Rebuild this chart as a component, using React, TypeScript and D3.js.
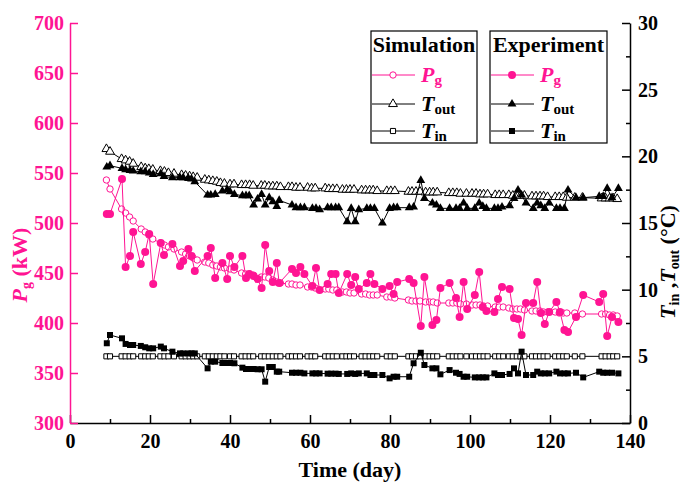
import * as d3 from "d3";
import { useEffect, useRef } from "react";

// simulation time points (day)
const simDays = [
  9.1, 10.0, 12.9, 13.9, 14.9, 15.8, 17.8, 18.8, 19.7, 20.7,
  22.6, 23.6, 24.6, 26.0, 27.9, 28.9, 29.9, 30.8, 31.8, 33.7,
  34.7, 35.7, 36.7, 37.6, 38.6, 40.0, 41.0, 42.9, 43.9, 44.9,
  45.8, 47.8, 48.7, 49.7, 50.7, 51.7, 52.6, 54.6, 55.5, 56.5,
  57.5, 59.4, 60.4, 61.3, 63.8, 64.7, 65.7, 66.7, 68.1, 69.1,
  70.0, 71.0, 72.9, 73.9, 74.9, 75.8, 76.8, 79.2, 80.2, 81.2,
  84.6, 85.5, 86.5, 87.5, 88.9, 89.9, 90.8, 91.8, 94.7, 95.7,
  96.7, 97.6, 99.1, 100.5, 101.5, 102.5, 103.4, 104.4, 106.3, 107.3,
  108.3, 109.7, 110.7, 111.7, 112.6, 113.6, 115.5, 116.5, 117.5, 118.4,
  119.4, 121.3, 122.3, 123.3, 124.2, 126.2, 128.1, 132.9, 133.9, 134.9,
  135.8, 136.8,
];
const simPg = [
  543, 534, 514, 510, 506, 502, 494, 491, 488, 484,
  480, 478, 476, 474, 471, 469, 467, 465, 463, 461,
  460, 458, 457, 456, 455, 454, 453, 450, 449, 449,
  448, 446, 446, 445, 443, 441, 440, 439, 439, 438,
  438, 436, 436, 435, 434, 434, 433, 433, 431, 431,
  430, 430, 429, 429, 428, 428, 428, 426, 426, 425,
  423, 422, 422, 422, 421, 421, 421, 420, 420, 420,
  420, 419, 419, 418, 418, 418, 417, 417, 416, 416,
  416, 415, 414, 414, 414, 413, 412, 412, 412, 411,
  411, 411, 410, 410, 410, 410, 409, 409, 409, 408,
  408, 407,
];
const simTout = [
  20.55, 20.35, 19.8, 19.7, 19.6, 19.45, 19.2, 19.1, 19.05, 19.0,
  18.9, 18.85, 18.75, 18.7, 18.6, 18.55, 18.5, 18.45, 18.4, 18.25,
  18.2, 18.15, 18.1, 18.0, 17.95, 17.9, 17.9, 17.85, 17.85, 17.85,
  17.8, 17.8, 17.8, 17.75, 17.75, 17.75, 17.7, 17.7, 17.7, 17.65,
  17.65, 17.65, 17.6, 17.6, 17.6, 17.55, 17.55, 17.55, 17.5, 17.5,
  17.5, 17.5, 17.45, 17.45, 17.45, 17.45, 17.4, 17.4, 17.4, 17.4,
  17.35, 17.35, 17.35, 17.35, 17.3, 17.3, 17.3, 17.3, 17.25, 17.25,
  17.25, 17.2, 17.2, 17.2, 17.2, 17.15, 17.15, 17.15, 17.1, 17.1,
  17.1, 17.1, 17.05, 17.05, 17.05, 17.05, 17.0, 17.0, 17.0, 17.0,
  16.95, 16.95, 16.95, 16.95, 16.9, 16.9, 16.9, 16.85, 16.85, 16.85,
  16.85, 16.8,
];
const simTin = [
  5, 5, 5, 5, 5, 5, 5, 5, 5, 5,
  5, 5, 5, 5, 5, 5, 5, 5, 5, 5,
  5, 5, 5, 5, 5, 5, 5, 5, 5, 5,
  5, 5, 5, 5, 5, 5, 5, 5, 5, 5,
  5, 5, 5, 5, 5, 5, 5, 5, 5, 5,
  5, 5, 5, 5, 5, 5, 5, 5, 5, 5,
  5, 5, 5, 5, 5, 5, 5, 5, 5, 5,
  5, 5, 5, 5, 5, 5, 5, 5, 5, 5,
  5, 5, 5, 5, 5, 5, 5, 5, 5, 5,
  5, 5, 5, 5, 5, 5, 5, 5, 5, 5,
  5, 5,
];

// experiment time points (day)
const expDays = [
  9.2, 10.0, 13.0, 13.9, 15.0, 15.8, 17.7, 18.8, 19.8, 20.8,
  22.7, 23.5, 25.6, 27.5, 28.3, 29.6, 30.4, 31.2, 34.4, 35.2,
  36.3, 38.1, 39.3, 40.0, 41.1, 43.1, 44.0, 44.8, 45.9, 46.9,
  47.9, 48.8, 49.8, 50.7, 51.7, 52.3, 55.5, 56.5, 57.6, 58.6,
  60.6, 61.5, 62.4, 64.4, 65.3, 66.4, 67.2, 69.3, 70.3, 71.3,
  72.2, 74.2, 75.1, 76.1, 78.1, 79.9, 80.9, 81.8, 84.8, 85.9,
  87.7, 88.6, 90.6, 91.6, 92.6, 94.9, 96.5, 97.4, 98.4, 99.3,
  101.2, 102.3, 103.2, 104.1, 106.1, 107.0, 108.0, 109.9, 111.0, 112.0,
  112.9, 114.0, 115.8, 116.8, 117.7, 118.7, 119.8, 121.6, 122.5, 123.6,
  124.5, 126.5, 128.3, 132.3, 133.3, 134.3, 135.5, 137.1,
];
const expPg = [
  509, 509, 544, 456, 467, 491, 459, 471, 489, 439,
  480, 468, 479, 457, 462, 474, 467, 452, 467, 475,
  445, 460, 444, 467, 456, 467, 445, 449, 447, 444,
  435, 478, 452, 441, 460, 440, 454, 450, 456, 449,
  437, 455, 433, 439, 449, 449, 430, 449, 438, 446,
  434, 440, 449, 439, 434, 437, 429, 441, 444, 440,
  397, 446, 398, 403, 435, 440, 425, 406, 441, 414,
  428, 451, 416, 412, 411, 424, 436, 434, 405, 404,
  388, 420, 420, 441, 410, 399, 411, 421, 411, 393,
  391, 406, 428, 421, 429, 387, 406, 401,
];
const expTout = [
  19.2, 19.3, 19.1, 19.0, 18.95, 18.9, 18.85, 18.85, 18.75, 18.65,
  18.7, 18.5, 18.4, 18.4, 18.4, 18.35, 18.3, 18.1, 17.1, 17.1,
  17.15, 17.4, 17.5, 17.35, 17.15, 17.05, 17.05, 17.05, 16.35, 16.8,
  17.15, 16.35, 16.9, 16.6, 16.25, 16.7, 16.35, 16.15, 16.15, 16.15,
  16.1, 16.1, 16.0, 16.15, 16.15, 16.15, 16.15, 15.1, 16.1, 15.1,
  16.0, 16.1, 16.1, 16.1, 15.0, 16.1, 16.15, 16.15, 16.15, 16.2,
  18.2, 16.85, 16.5, 16.35, 16.1, 16.1, 16.1, 16.1, 16.5, 16.1,
  16.1, 16.5, 16.25, 16.1, 16.1, 16.1, 16.2, 16.3, 16.85, 17.47,
  17.1, 16.5, 16.1, 16.5, 16.3, 16.1, 16.5, 16.1, 16.1, 16.1,
  17.47, 16.9, 16.9, 17.0, 17.0, 17.6, 16.9, 17.6,
];
const expTin = [
  5.98, 6.6, 6.35, 5.93, 5.85, 5.85, 5.78, 5.68, 5.6, 5.6,
  5.73, 5.6, 5.35, 5.22, 5.22, 5.22, 5.22, 5.22, 4.1, 4.6,
  4.6, 4.5, 4.5, 4.5, 4.48, 4.15, 4.05, 4.05, 4.05, 4.03,
  4.03, 3.1, 4.2, 4.2, 3.85, 3.85, 3.77, 3.77, 3.77, 3.72,
  3.72, 3.72, 3.72, 3.7, 3.7, 3.7, 3.68, 3.68, 3.72, 3.68,
  3.72, 3.72, 3.6, 3.6, 3.6, 3.35, 3.47, 3.47, 3.47, 4.48,
  5.27, 4.35, 4.1, 4.1, 3.65, 3.97, 3.77, 3.68, 3.47, 3.47,
  3.42, 3.42, 3.42, 3.42, 3.72, 3.6, 3.6, 3.68, 4.1, 3.72,
  5.35, 3.6, 3.6, 3.85, 3.72, 3.72, 3.72, 3.85, 3.72, 3.72,
  3.72, 3.77, 3.42, 3.85, 3.77, 3.77, 3.77, 3.72,
];

const dayTicks = [0, 20, 40, 60, 80, 100, 120, 140];
const dayMinor = [10, 30, 50, 70, 90, 110, 130];
const pgTicks = [300, 350, 400, 450, 500, 550, 600, 650, 700];
const tTicks = [0, 5, 10, 15, 20, 25, 30];
const tMinor = [2.5, 7.5, 12.5, 17.5, 22.5, 27.5];

const PINK = "#FF1493";
const FONT = "'Liberation Serif', 'Times New Roman', serif";

const drawChart = (el: SVGSVGElement | null) => {
  if (!el) return;
  const svg = d3.select(el);
  svg.selectAll("*").remove();

  const left = 70, right = 630, top = 23, bottom = 423;

  const x = d3.scaleLinear().domain([0, 140]).range([left, right]);
  const yP = d3.scaleLinear().domain([300, 700]).range([bottom, top]);
  const yT = d3.scaleLinear().domain([0, 30]).range([bottom, top]);

  const styleAxis = (g: any, color: string) => {
    g.selectAll("path").attr("stroke", color).attr("stroke-width", 1.5);
    g.selectAll("line").attr("stroke", color).attr("stroke-width", 1.5);
    g.selectAll("text")
      .attr("fill", color)
      .attr("font-family", FONT)
      .attr("font-weight", "bold")
      .attr("font-size", 20);
  };

  // bottom axis
  const xg = svg.append("g").attr("transform", `translate(0,${bottom})`)
    .call(d3.axisBottom(x).tickValues(dayTicks).tickSize(-8).tickSizeOuter(0).tickPadding(11).tickFormat(d3.format("d")));
  styleAxis(xg, "#000");
  const xm = svg.append("g").attr("transform", `translate(0,${bottom})`)
    .call(d3.axisBottom(x).tickValues(dayMinor).tickSize(-4).tickSizeOuter(0).tickFormat(() => ""));
  styleAxis(xm, "#000");
  xm.select("path").remove();

  // left axis (P_g)
  const yg = svg.append("g").attr("transform", `translate(${left},0)`)
    .call(d3.axisLeft(yP).tickValues(pgTicks).tickSize(-8).tickSizeOuter(0).tickPadding(6));
  styleAxis(yg, PINK);

  // right axis (T)
  const tg = svg.append("g").attr("transform", `translate(${right},0)`)
    .call(d3.axisRight(yT).tickValues(tTicks).tickSize(-8).tickSizeOuter(0).tickPadding(8));
  styleAxis(tg, "#000");
  const tm = svg.append("g").attr("transform", `translate(${right},0)`)
    .call(d3.axisRight(yT).tickValues(tMinor).tickSize(-4).tickSizeOuter(0).tickFormat(() => ""));
  styleAxis(tm, "#000");
  tm.select("path").remove();

  const tri = d3.symbol().type(d3.symbolTriangle).size(34);
  const sqOpen = d3.symbol().type(d3.symbolSquare).size(26);
  const sqFill = d3.symbol().type(d3.symbolSquare).size(36);

  const drawSeries = (days: number[], vals: number[], y: any, color: string) => {
    const line = d3.line<number>().x((_, i) => x(days[i])).y((d) => y(d));
    svg.append("path").datum(vals).attr("d", line)
      .attr("fill", "none").attr("stroke", color).attr("stroke-width", 1);
  };

  // simulation
  drawSeries(simDays, simTout, yT, "#000");
  drawSeries(simDays, simTin, yT, "#000");
  drawSeries(simDays, simPg, yP, PINK);

  svg.append("g").selectAll("path").data(simTout).enter().append("path")
    .attr("d", tri).attr("transform", (d, i) => `translate(${x(simDays[i])},${yT(d)})`)
    .attr("fill", "#fff").attr("stroke", "#000").attr("stroke-width", 1);
  svg.append("g").selectAll("path").data(simTin).enter().append("path")
    .attr("d", sqOpen).attr("transform", (d, i) => `translate(${x(simDays[i])},${yT(d)})`)
    .attr("fill", "#fff").attr("stroke", "#000").attr("stroke-width", 1);
  svg.append("g").selectAll("circle").data(simPg).enter().append("circle")
    .attr("cx", (_, i) => x(simDays[i])).attr("cy", (d) => yP(d)).attr("r", 3.2)
    .attr("fill", "#fff").attr("stroke", PINK).attr("stroke-width", 1);

  // experiment
  drawSeries(expDays, expTout, yT, "#000");
  drawSeries(expDays, expTin, yT, "#000");
  drawSeries(expDays, expPg, yP, PINK);

  svg.append("g").selectAll("path").data(expTout).enter().append("path")
    .attr("d", tri).attr("transform", (d, i) => `translate(${x(expDays[i])},${yT(d)})`)
    .attr("fill", "#000");
  svg.append("g").selectAll("path").data(expTin).enter().append("path")
    .attr("d", sqFill).attr("transform", (d, i) => `translate(${x(expDays[i])},${yT(d)})`)
    .attr("fill", "#000");
  svg.append("g").selectAll("circle").data(expPg).enter().append("circle")
    .attr("cx", (_, i) => x(expDays[i])).attr("cy", (d) => yP(d)).attr("r", 4)
    .attr("fill", PINK);

  // axis titles
  svg.append("text")
    .attr("x", (left + right) / 2).attr("y", 477)
    .attr("text-anchor", "middle").attr("font-family", FONT)
    .attr("font-weight", "bold").attr("font-size", 22)
    .text("Time (day)");

  const lt = svg.append("text")
    .attr("transform", "translate(27,265) rotate(-90)")
    .attr("text-anchor", "middle").attr("font-family", FONT)
    .attr("font-weight", "bold").attr("font-size", 22).attr("fill", PINK);
  lt.append("tspan").attr("font-style", "italic").text("P");
  lt.append("tspan").attr("font-size", 14).attr("dy", 4).text("g");
  lt.append("tspan").attr("dy", -4).text(" (kW)");

  const rt = svg.append("text")
    .attr("transform", "translate(675,262) rotate(-90)")
    .attr("text-anchor", "middle").attr("font-family", FONT)
    .attr("font-weight", "bold").attr("font-size", 22).attr("fill", "#000");
  rt.append("tspan").attr("font-style", "italic").text("T");
  rt.append("tspan").attr("font-size", 14).attr("dy", 4).text("in");
  rt.append("tspan").attr("dy", -4).text(" ,");
  rt.append("tspan").attr("font-style", "italic").text("T");
  rt.append("tspan").attr("font-size", 14).attr("dy", 4).text("out");
  rt.append("tspan").attr("dy", -4).text(" (°C)");

  // legends
  const legendBox = (bx: number, bw: number, title: string, open: boolean) => {
    const g = svg.append("g");
    g.append("rect").attr("x", bx).attr("y", 31).attr("width", bw).attr("height", 112)
      .attr("fill", "#fff").attr("stroke", "#000").attr("stroke-width", 1.2);
    g.append("text").attr("x", bx + bw / 2).attr("y", 52).attr("text-anchor", "middle")
      .attr("font-family", FONT).attr("font-weight", "bold").attr("font-size", 22)
      .text(title);
    const rows = [
      { y: 75, color: PINK, main: "P", sub: "g" },
      { y: 104, color: "#000", main: "T", sub: "out" },
      { y: 131, color: "#000", main: "T", sub: "in" },
    ];
    const x0 = bx + 1, x1 = bx + 44, mx = bx + 22;
    rows.forEach((r, k) => {
      g.append("line").attr("x1", x0).attr("x2", x1).attr("y1", r.y).attr("y2", r.y)
        .attr("stroke", r.color).attr("stroke-width", 1);
      if (k === 0) {
        g.append("circle").attr("cx", mx).attr("cy", r.y).attr("r", open ? 3.2 : 4)
          .attr("fill", open ? "#fff" : PINK).attr("stroke", open ? PINK : "none");
      } else {
        g.append("path").attr("d", k === 1 ? tri : open ? sqOpen : sqFill)
          .attr("transform", `translate(${mx},${r.y})`)
          .attr("fill", open ? "#fff" : "#000").attr("stroke", open ? "#000" : "none");
      }
      const t = g.append("text").attr("x", bx + 50).attr("y", r.y + 7)
        .attr("font-family", FONT).attr("font-weight", "bold").attr("font-size", 22)
        .attr("fill", r.color);
      t.append("tspan").attr("font-style", "italic").text(r.main);
      t.append("tspan").attr("font-size", 15).attr("dy", 3).text(r.sub);
    });
  };
  legendBox(371, 106, "Simulation", true);
  legendBox(490, 117, "Experiment", false);
};

const App = () => {
  const ref = useRef<SVGSVGElement>(null);
  useEffect(() => {
    drawChart(ref.current);
  }, []);
  return (
    <svg ref={ref} width={689} height={483}
      style={{ position: "absolute", left: 0, top: 0, background: "#fff" }} />
  );
};

export default App;
